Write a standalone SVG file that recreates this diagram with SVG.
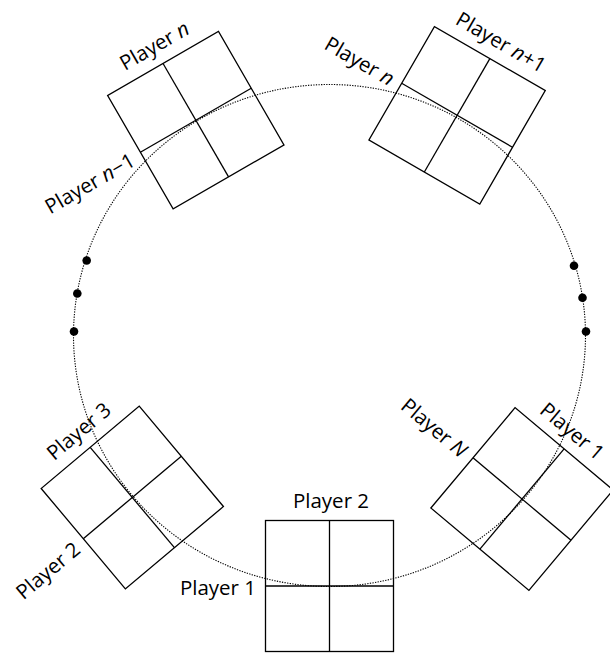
<svg xmlns="http://www.w3.org/2000/svg" width="610" height="653" viewBox="0 0 610 653">
<style>
.box{fill:none;stroke:#000;stroke-width:1.3}
.ln{stroke:#000;stroke-width:1.3}
.lbl{font-family:"Open Sans","Liberation Sans",sans-serif;font-size:20.5px;fill:#000}
.top{text-anchor:middle}
.left{text-anchor:end}
.orbit{fill:none;stroke:#000;stroke-width:1.1;stroke-dasharray:1.3 1.3}
.dot{fill:#000}
</style>
<defs>
<g id="grid">
<rect class="box" x="-64" y="-65.5" width="128" height="131"/>
<line class="ln" x1="0" y1="-65.5" x2="0" y2="65.5"/>
<line class="ln" x1="-64" y1="0" x2="64" y2="0"/>
</g>
</defs>
<g id="connectors">
<ellipse class="orbit" cx="329.5" cy="335.5" rx="256" ry="251"/>
<circle class="dot" cx="86.7" cy="260.5" r="4.3"/>
<circle class="dot" cx="77.3" cy="293.5" r="4.3"/>
<circle class="dot" cx="74" cy="331.5" r="4.3"/>
<circle class="dot" cx="574" cy="265.7" r="4.3"/>
<circle class="dot" cx="582.5" cy="297.7" r="4.3"/>
<circle class="dot" cx="586" cy="331.5" r="4.3"/>
</g>
<g id="node-bottom" transform="translate(329.5,586)">
<use href="#grid"/>
<text class="lbl top" x="1.5" y="-78">Player 2</text>
<text class="lbl left" x="-73.5" y="9">Player 1</text>
</g>
<g id="node-top-left" transform="translate(195.8,120.2) rotate(-30)">
<use href="#grid"/>
<text class="lbl top" x="1.5" y="-78">Player <tspan font-style="italic">n</tspan></text>
<text class="lbl left" x="-73.5" y="9">Player <tspan font-style="italic">n</tspan>−1</text>
</g>
<g id="node-top-right" transform="translate(457.1,115.3) rotate(30)">
<use href="#grid"/>
<text class="lbl top" x="1.5" y="-78">Player <tspan font-style="italic">n</tspan>+1</text>
<text class="lbl left" x="-73.5" y="9">Player <tspan font-style="italic">n</tspan></text>
</g>
<g id="node-bottom-left" transform="translate(132.3,497.5) rotate(-40)">
<use href="#grid"/>
<text class="lbl top" x="1.5" y="-78">Player 3</text>
<text class="lbl left" x="-73.5" y="9">Player 2</text>
</g>
<g id="node-bottom-right" transform="translate(522,499) rotate(40)">
<use href="#grid"/>
<text class="lbl top" x="-5" y="-77">Player 1</text>
<text class="lbl left" x="-73.5" y="9">Player <tspan font-style="italic">N</tspan></text>
</g>
</svg>
